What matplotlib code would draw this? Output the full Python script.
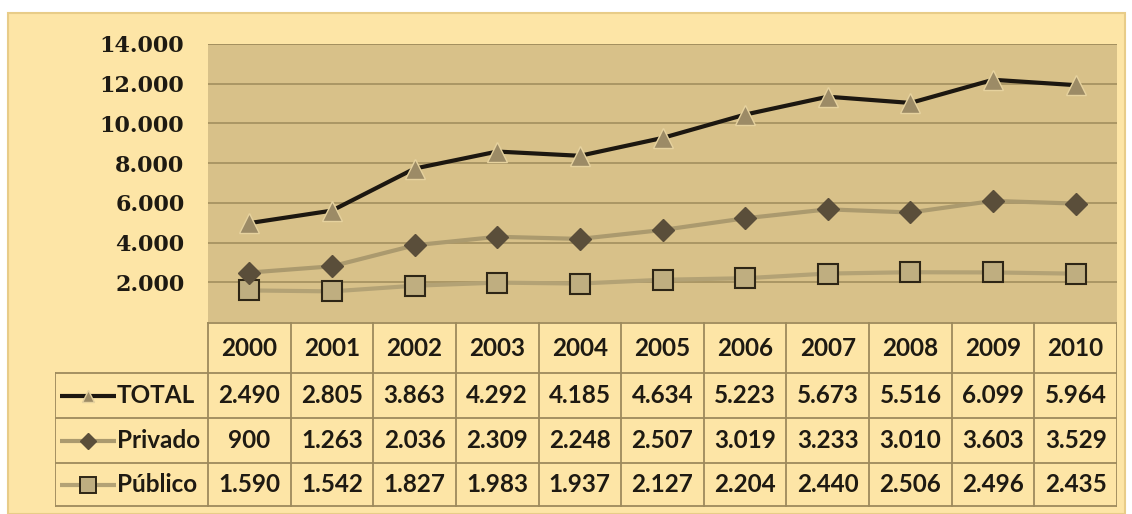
import matplotlib.pyplot as plt
import numpy as np
from matplotlib.patches import Rectangle

years = ["2000", "2001", "2002", "2003", "2004", "2005",
         "2006", "2007", "2008", "2009", "2010"]
total = [2490, 2805, 3863, 4292, 4185, 4634, 5223, 5673, 5516, 6099, 5964]
privado = [900, 1263, 2036, 2309, 2248, 2507, 3019, 3233, 3010, 3603, 3529]
publico = [1590, 1542, 1827, 1983, 1937, 2127, 2204, 2440, 2506, 2496, 2435]
series_names = ["TOTAL", "Privado", "Público"]
yticks = [2000, 4000, 6000, 8000, 10000, 12000, 14000]


def fmt(v):
    return f"{v:,}".replace(",", ".")


BG = "#fde5a6"
PLOT_BG = "#d8c189"
GRID = "#a38f5e"
BORDER = "#9d8a5c"
TXT = "#1e1a12"

W, H = 1132, 514
fig = plt.figure(figsize=(W / 100, H / 100), dpi=100)
fig.patch.set_facecolor("white")

# outer frame
fig.patches.append(Rectangle((8 / W, 0), (1125 - 8) / W, (H - 13) / H,
                             transform=fig.transFigure, facecolor=BG,
                             edgecolor="#e8cc88", linewidth=1.5, zorder=-5))

# the original chart stacks the series (Público, +Privado, +TOTAL)
x = np.arange(len(years))
s_pub = np.array(publico)
s_priv = s_pub + np.array(privado)
s_tot = s_priv + np.array(total)

px0, px1, py0, py1 = 208, 1117, 44, 322
ax = fig.add_axes([px0 / W, 1 - py1 / H, (px1 - px0) / W, (py1 - py0) / H])
ax.set_facecolor(PLOT_BG)
ax.set_xlim(-0.5, len(years) - 0.5)
ax.set_ylim(0, 14000)
ax.set_yticks(yticks)
ax.set_yticklabels([fmt(v) for v in yticks], fontsize=16,
                   fontweight="bold", family="DejaVu Serif", color=TXT)
ax.tick_params(axis="y", length=0, pad=17)
ax.set_xticks([])
ax.grid(axis="y", color=GRID, linewidth=1.2)
ax.set_axisbelow(True)
for s in ax.spines.values():
    s.set_visible(False)
ax.axhline(14000, color=GRID, linewidth=1.2)

ax.plot(x, s_pub, color="#b3a275", linewidth=3, marker="s", markersize=14,
        markerfacecolor="#bfae80", markeredgecolor="#2e2616",
        markeredgewidth=1.5, zorder=3)
ax.plot(x, s_priv, color="#ab9a6e", linewidth=3, marker="D", markersize=11,
        markerfacecolor="#5a4e3a", markeredgecolor="#5a4e3a", zorder=3)
ax.plot(x, s_tot, color="#1c1710", linewidth=3, marker="^", markersize=15,
        markerfacecolor="#9c8b66", markeredgecolor="#e6d29e",
        markeredgewidth=1, zorder=4)

# data table below
tx0 = 55
ncol = len(years)
cw = (px1 - px0) / ncol
tax = fig.add_axes([tx0 / W, 0, (px1 - tx0) / W, (H - py1) / H])
left = -0.5 - (px0 - tx0) / cw
tax.set_xlim(left, ncol - 0.5)
tax.set_ylim(H, py1)
tax.axis("off")

rows_y = [323, 373, 418, 463, 506]
lw = 1.3
tax.plot([-0.5, ncol - 0.5], [rows_y[0]] * 2, color=BORDER, lw=lw)
for yy in rows_y[1:]:
    tax.plot([left, ncol - 0.5], [yy] * 2, color=BORDER, lw=lw)
for i in range(ncol + 1):
    tax.plot([i - 0.5] * 2, [rows_y[0], rows_y[-1]], color=BORDER, lw=lw)
tax.plot([left] * 2, [rows_y[1], rows_y[-1]], color=BORDER, lw=lw)

tfont = dict(fontsize=17.5, fontweight="bold", family="Lato", color=TXT,
             ha="center", va="center")
for i, yr in enumerate(years):
    tax.text(i, (rows_y[0] + rows_y[1]) / 2, yr, **tfont)

data_rows = [total, privado, publico]
for r, vals in enumerate(data_rows):
    yc = (rows_y[r + 1] + rows_y[r + 2]) / 2
    for i, v in enumerate(vals):
        tax.text(i, yc, fmt(v), **tfont)

# legend keys in the first column
kx0 = left + 5 / cw
kx1 = left + 61 / cw
styles = [
    dict(color="#1c1710", marker="^", markersize=9, markerfacecolor="#9c8b66",
         markeredgecolor="#e6d29e"),
    dict(color="#ab9a6e", marker="D", markersize=8, markerfacecolor="#5a4e3a",
         markeredgecolor="#5a4e3a"),
    dict(color="#b3a275", marker="s", markersize=11, markerfacecolor="#bfae80",
         markeredgecolor="#2e2616", markeredgewidth=1.4),
]
for r, name in enumerate(series_names):
    yc = (rows_y[r + 1] + rows_y[r + 2]) / 2
    st = styles[r]
    tax.plot([kx0, kx1], [yc, yc], color=st["color"], linewidth=3,
             solid_capstyle="butt")
    tax.plot([(kx0 + kx1) / 2], [yc], linestyle="none",
             **{k: v for k, v in st.items() if k != "color"})
    tax.text(kx1 + 1 / cw, yc, name, fontsize=17.5, fontweight="bold",
             family="Lato", color=TXT, ha="left", va="center")

fig.savefig("out.png", dpi=100)
